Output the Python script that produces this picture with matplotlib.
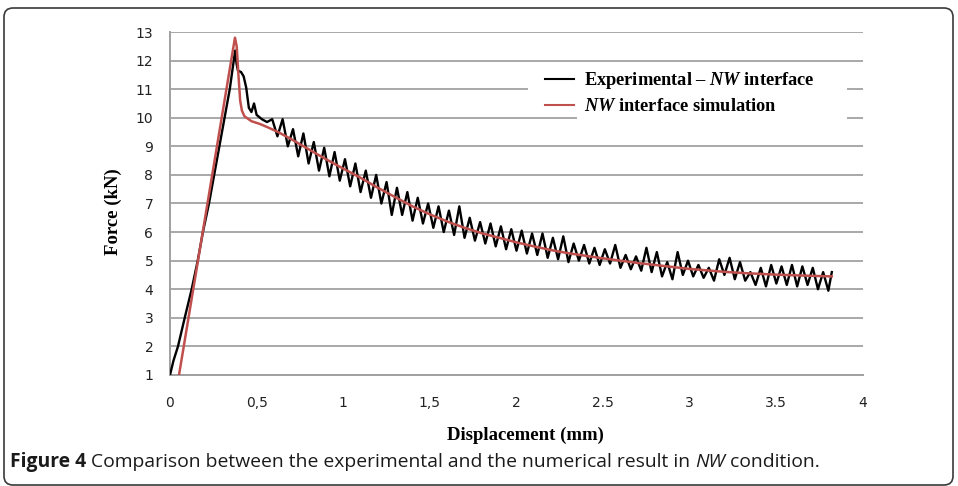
import matplotlib
matplotlib.use("Agg")
import matplotlib.pyplot as plt
from matplotlib.patches import Rectangle, FancyBboxPatch

# ---------------- data ----------------
exp_x = [0.0, 0.02, 0.046, 0.085, 0.125, 0.16, 0.19, 0.225, 0.255, 0.285, 0.315, 0.345,
         0.368, 0.376, 0.384, 0.392, 0.41, 0.425, 0.44, 0.455, 0.47, 0.485,
         0.50, 0.53, 0.56, 0.59, 0.62, 0.65, 0.68, 0.71, 0.74, 0.77, 0.80, 0.83, 0.86, 0.89,
         0.92, 0.95, 0.98, 1.01, 1.04, 1.07, 1.10, 1.13, 1.16, 1.19, 1.22, 1.25, 1.28, 1.31,
         1.34, 1.37, 1.40, 1.43, 1.46, 1.49, 1.52, 1.55, 1.58, 1.61, 1.64, 1.67, 1.70, 1.73,
         1.76, 1.79, 1.82, 1.85, 1.88, 1.91, 1.94, 1.97, 2.00, 2.03, 2.06, 2.09, 2.12, 2.15,
         2.18, 2.21, 2.24, 2.27, 2.30, 2.33, 2.36, 2.39, 2.42, 2.45, 2.48, 2.51, 2.54, 2.57,
         2.60, 2.63, 2.66, 2.69, 2.72, 2.75, 2.78, 2.81, 2.84, 2.87, 2.90, 2.93, 2.96, 2.99,
         3.02, 3.05, 3.08, 3.11, 3.14, 3.17, 3.20, 3.23, 3.26, 3.29, 3.32, 3.35, 3.38, 3.41,
         3.44, 3.47, 3.50, 3.53, 3.56, 3.59, 3.62, 3.65, 3.68, 3.71, 3.74, 3.77, 3.80, 3.82]
exp_y = [1.0, 1.5, 2.0, 3.0, 4.0, 5.0, 6.0, 7.0, 8.0, 9.0, 10.0, 11.0,
         12.0, 12.35, 11.9, 11.65, 11.6, 11.45, 11.05, 10.35, 10.2, 10.5,
         10.10, 9.95, 9.85, 9.95, 9.35, 9.95, 9.0, 9.6, 8.65, 9.45, 8.4, 9.15, 8.15, 8.95,
         7.95, 8.8, 7.8, 8.55, 7.6, 8.4, 7.4, 8.15, 7.2, 8.0, 7.0, 7.75, 6.6, 7.55,
         6.6, 7.4, 6.4, 7.2, 6.3, 7.0, 6.15, 6.9, 6.0, 6.75, 5.9, 6.9, 5.8, 6.5,
         5.7, 6.35, 5.6, 6.3, 5.5, 6.2, 5.4, 6.1, 5.35, 6.05, 5.25, 5.95, 5.2, 5.95,
         5.1, 5.8, 5.05, 5.85, 4.95, 5.6, 5.0, 5.55, 4.9, 5.45, 4.85, 5.4, 4.9, 5.55,
         4.75, 5.2, 4.7, 5.15, 4.65, 5.45, 4.6, 5.3, 4.45, 4.95, 4.35, 5.3, 4.5, 5.0,
         4.45, 4.85, 4.4, 4.75, 4.3, 5.05, 4.5, 5.1, 4.35, 4.95, 4.3, 4.6, 4.15, 4.75,
         4.1, 4.85, 4.2, 4.8, 4.15, 4.85, 4.1, 4.8, 4.15, 4.75, 4.0, 4.6, 3.95, 4.6]

sim_x = [0.052, 0.375, 0.385, 0.395, 0.405, 0.415, 0.43, 0.47, 0.52, 0.57, 0.63, 0.7,
         0.8, 0.9, 1.0, 1.1, 1.2, 1.3, 1.4, 1.5, 1.6, 1.7, 1.8, 1.9, 2.0, 2.1, 2.2, 2.3,
         2.4, 2.5, 2.6, 2.7, 2.8, 2.9, 3.0, 3.1, 3.2, 3.3, 3.4, 3.5, 3.6, 3.7, 3.82]
sim_y = [1.0, 12.8, 12.5, 11.5, 10.6, 10.25, 10.05, 9.88, 9.78, 9.65, 9.48, 9.25,
         8.9, 8.55, 8.22, 7.9, 7.55, 7.22, 6.9, 6.62, 6.37, 6.15, 5.96, 5.8, 5.64, 5.5,
         5.37, 5.26, 5.17, 5.08, 5.0, 4.92, 4.85, 4.78, 4.71, 4.66, 4.61, 4.57, 4.54,
         4.51, 4.49, 4.47, 4.45]

y_ticks = list(range(1, 14))
x_ticks = [0, 0.5, 1, 1.5, 2, 2.5, 3, 3.5, 4]
x_tick_labels = ['0', '0,5', '1', '1,5', '2', '2.5', '3', '3.5', '4']
series_labels = [r'Experimental – $\mathbfit{NW}$ interface',
                 r'$\mathbfit{NW}$ interface simulation']
x_label = 'Displacement (mm)'
y_label = 'Force (kN)'
caption_parts = [('Figure 4', 'bold', 'normal'),
                 (' Comparison between the experimental and the numerical result in ', 'normal', 'normal'),
                 ('NW', 'normal', 'italic'),
                 (' condition.', 'normal', 'normal')]

# ---------------- style ----------------
plt.rcParams['mathtext.fontset'] = 'custom'
plt.rcParams['mathtext.bfit'] = 'Liberation Serif:italic:bold'
plt.rcParams['mathtext.rm'] = 'Liberation Serif:bold'
plt.rcParams['mathtext.it'] = 'Liberation Serif:italic:bold'

W, H = 958, 486
fig = plt.figure(figsize=(W / 100, H / 100), dpi=100)
fig.patch.set_facecolor('white')

ax = fig.add_axes([170 / W, 1 - 375 / H, (863 - 170) / W, (375 - 32) / H])
ax.set_xlim(0, 4)
ax.set_ylim(1, 13)
ax.set_yticks(y_ticks)
ax.set_xticks(x_ticks)
ax.set_xticklabels(x_tick_labels)
ax.tick_params(axis='both', length=0, labelsize=10, colors='#222222')
ax.tick_params(axis='y', pad=12)
ax.tick_params(axis='x', pad=15)
ax.set_axisbelow(True)
ax.yaxis.grid(True, color='#a8a8a8', linewidth=1.4)
for s in ['top', 'right']:
    ax.spines[s].set_visible(False)
ax.spines['left'].set_color('#a0a0a0')
ax.spines['left'].set_linewidth(1.4)
ax.spines['bottom'].set_color('#a0a0a0')
ax.spines['bottom'].set_linewidth(1.4)

ax.plot(exp_x, exp_y, color='black', linewidth=1.7, zorder=3, label=series_labels[0])
ax.plot(sim_x, sim_y, color='#c0504d', linewidth=1.8, zorder=4, label=series_labels[1])

# white legend background covering grid lines
ax.add_patch(Rectangle((528 / W, 1 - 100 / H), (577 - 528) / W, 30 / H,
                       transform=fig.transFigure, facecolor='white', edgecolor='none', zorder=1))
ax.add_patch(Rectangle((577 / W, 1 - 122 / H), (847 - 577) / W, 56 / H,
                       transform=fig.transFigure, facecolor='white', edgecolor='none', zorder=1))

leg = ax.legend(loc='upper left', bbox_to_anchor=(545 / W, 1 - 70 / H),
                bbox_transform=fig.transFigure, frameon=False,
                prop={'family': 'Liberation Serif', 'weight': 'bold', 'size': 13.2},
                handlelength=1.6, handletextpad=0.55, labelspacing=0.38,
                borderpad=0, borderaxespad=0)
for line in leg.get_lines():
    line.set_linewidth(1.5)

fig.text(113 / W, 1 - 212 / H, y_label, rotation=90, ha='center', va='center',
         family='Liberation Serif', weight='bold', fontsize=13.5)
fig.text(525 / W, 1 - 435 / H, x_label, ha='center', va='center',
         family='Liberation Serif', weight='bold', fontsize=13.5)

# caption
renderer = fig.canvas.get_renderer()
x_px = 10
for txt, wt, st in caption_parts:
    t = fig.text(x_px / W, 1 - 462 / H, txt, ha='left', va='center', family='Open Sans',
                 weight=wt, style=st, fontsize=13.9, color='#1a1a1a')
    bb = t.get_window_extent(renderer=renderer)
    x_px = bb.x1

# border
fig.patches.append(FancyBboxPatch((4, 1), 949, 477, boxstyle='round,pad=0,rounding_size=9',
                                  transform=None, facecolor='none', edgecolor='#3a3a3a',
                                  linewidth=1.2, figure=fig))

fig.savefig('out.png', dpi=100)
